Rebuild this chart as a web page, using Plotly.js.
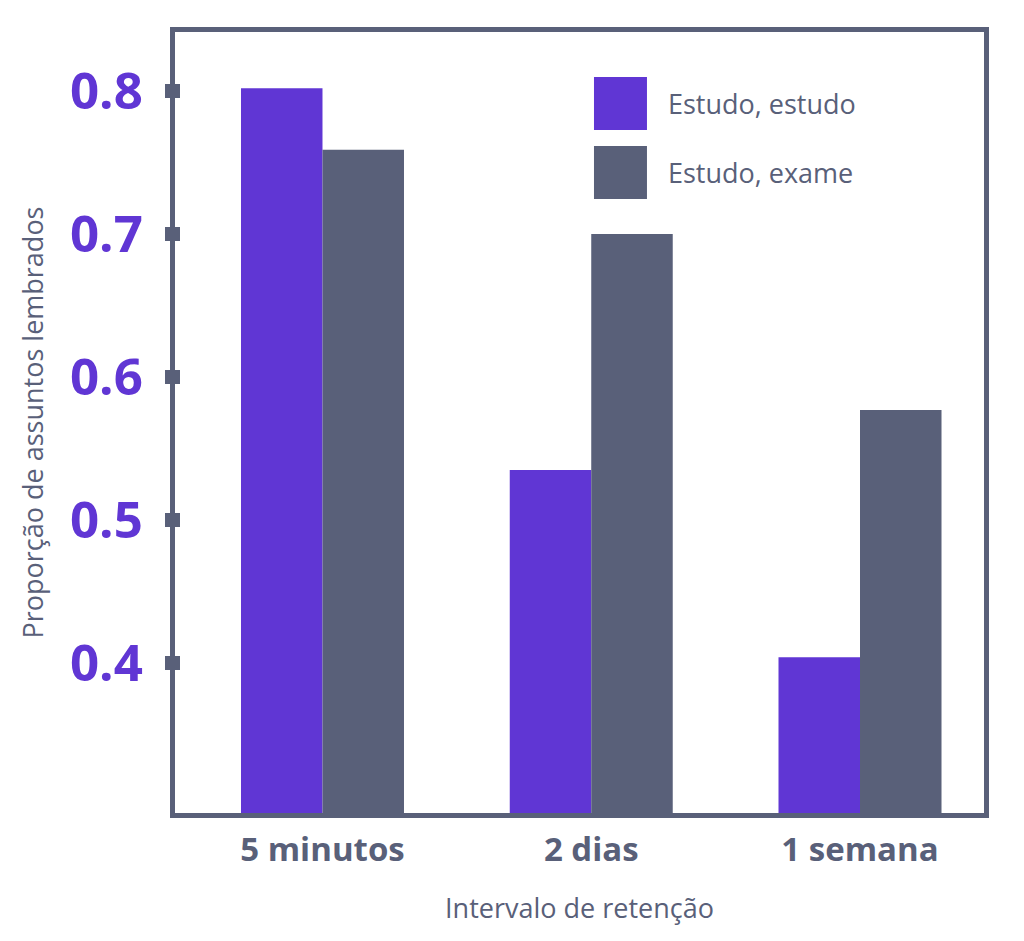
<!DOCTYPE html>
<html>
<head>
<meta charset="utf-8">
<script src="https://cdn.plot.ly/plotly-3.0.1.min.js"></script>
<style>html,body{margin:0;padding:0;background:#fff;}#chart{width:1024px;height:941px;}</style>
</head>
<body>
<div id="chart"></div>
<script>
const categories = ["5 minutos", "2 dias", "1 semana"];
const seriesNames = ["Estudo, estudo", "Estudo, exame"];
const estudoEstudo = [0.802, 0.535, 0.404];
const estudoExame = [0.759, 0.700, 0.577];
const yTickVals = [0.4, 0.5, 0.6, 0.7, 0.8];
const yTickText = ["0.4", "0.5", "0.6", "0.7", "0.8"];

const purple = "#6036d4";
const slate = "#596079";
const FONT = "Open Sans, Noto Sans, sans-serif";

const traces = [
  {type: "bar", name: seriesNames[0], x: categories, y: estudoEstudo, marker: {color: purple}, showlegend: false, hoverinfo: "skip"},
  {type: "bar", name: seriesNames[1], x: categories, y: estudoExame, marker: {color: slate}, showlegend: false, hoverinfo: "skip"}
];

// custom legend (large swatches)
const legendColors = [purple, slate];
const shapes = [];
const annotations = [];
const lx0 = 0.5179, lx1 = 0.5834;
const legTop = [0.9424, 0.8540];
const legH = 0.0679;
seriesNames.forEach((n, i) => {
  shapes.push({type: "rect", xref: "paper", yref: "paper", x0: lx0, x1: lx1, y0: legTop[i] - legH, y1: legTop[i], fillcolor: legendColors[i], line: {width: 0}});
  annotations.push({xref: "paper", yref: "paper", x: 0.6069, y: legTop[i] - legH / 2, xanchor: "left", yanchor: "middle", showarrow: false, text: n, font: {family: FONT, size: 27, color: slate}});
});

const yRange = [0.2951, 0.8413];

const layout = {
  width: 1024, height: 941,
  margin: {l: 175, r: 40, t: 32, b: 128},
  paper_bgcolor: "#fff", plot_bgcolor: "#fff",
  barmode: "group", bargap: 0.3935, bargroupgap: 0,
  showlegend: false,
  font: {family: FONT, color: slate},
  xaxis: {
    type: "category", range: [-0.5488, 2.4614],
    showline: true, linecolor: slate, linewidth: 5, mirror: true,
    showgrid: false, zeroline: false, ticks: "",
    ticklabelstandoff: 3,
    tickfont: {family: FONT, size: 33, color: slate, weight: "bold"},
    title: {text: "Intervalo de retenção", font: {family: FONT, size: 27, color: slate}, standoff: 31}
  },
  yaxis: {
    range: yRange,
    tickvals: yTickVals, ticktext: yTickText,
    showline: true, linecolor: slate, linewidth: 5, mirror: true,
    showgrid: false, zeroline: false,
    ticks: "outside", ticklen: 5, tickwidth: 14, tickcolor: slate,
    ticklabelstandoff: 12,
    tickfont: {family: FONT, size: 51, color: purple, weight: "bold"},
    title: {text: "Proporção de assuntos lembrados", font: {family: FONT, size: 27, color: slate}, standoff: 20}
  },
  yaxis2: {
    overlaying: "y", side: "left", range: yRange,
    tickvals: yTickVals, showticklabels: false,
    showline: false, showgrid: false, zeroline: false,
    ticks: "inside", ticklen: 5, tickwidth: 14, tickcolor: slate
  },
  shapes: shapes,
  annotations: annotations
};

// invisible trace to activate the overlay axis carrying the inner half of tick squares
traces.push({type: "scatter", x: [categories[0]], y: [yTickVals[0]], yaxis: "y2", mode: "markers", marker: {opacity: 0}, showlegend: false, hoverinfo: "skip"});

Plotly.newPlot("chart", traces, layout, {displayModeBar: false, staticPlot: true});
</script>
</body>
</html>
